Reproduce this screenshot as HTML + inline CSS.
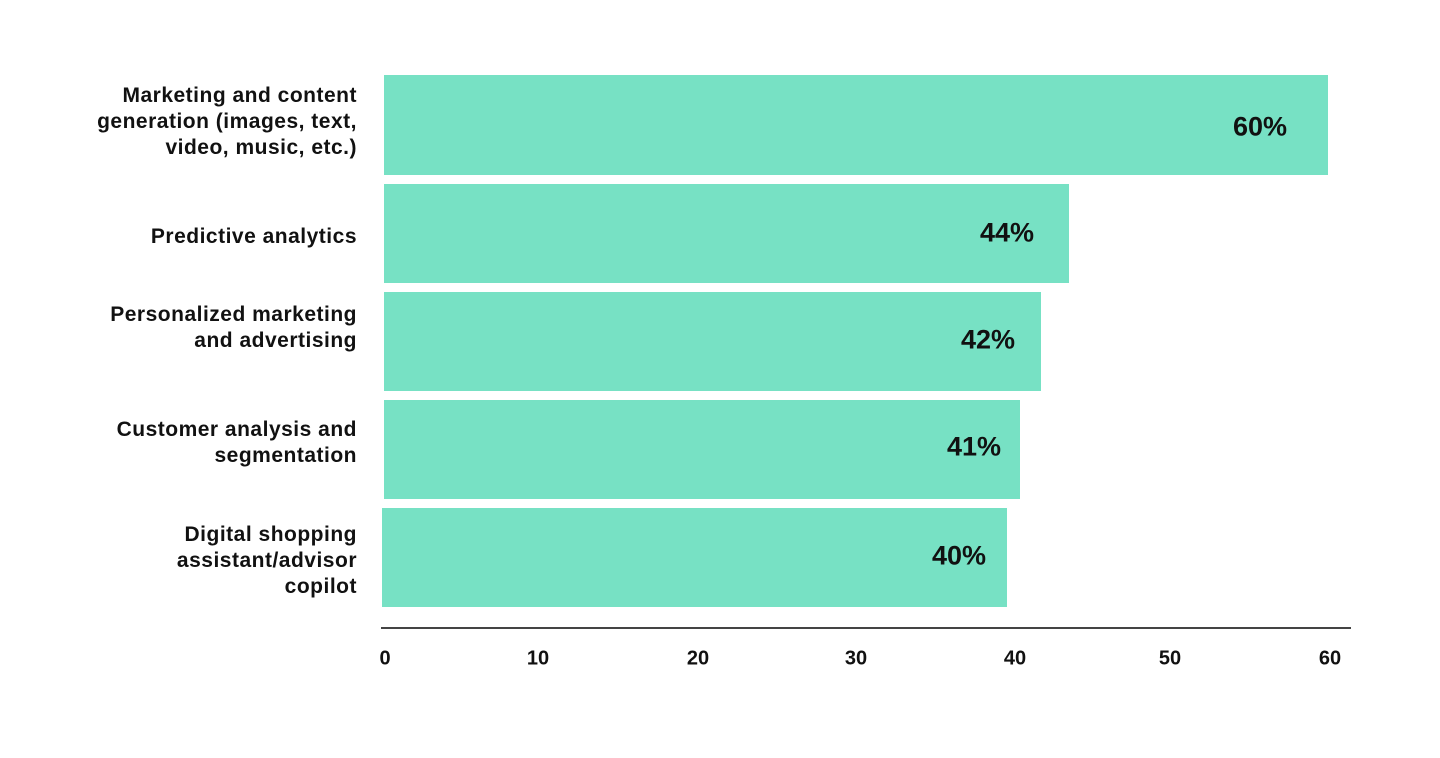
<!DOCTYPE html>
<html><head><style>
body{margin:0;width:1440px;height:758px;background:#fff;overflow:hidden;font-family:"Liberation Sans","DejaVu Sans",sans-serif;}
.b{position:absolute;background:#77e1c4;}
.v{position:absolute;font-size:27px;color:#111;transform:translate(-50%,-50%);font-weight:bold}
.c{position:absolute;right:1083px;width:340px;text-align:right;font-size:21px;letter-spacing:0.5px;line-height:26px;color:#111;font-weight:bold;transform:translateY(-50%)}
.t{position:absolute;top:659px;font-size:20px;color:#111;font-weight:bold;transform:translate(-50%,-50%)}
</style></head><body>
<div class="b" style="left:384px;top:75px;width:944px;height:100px"></div>
<div class="b" style="left:384px;top:184px;width:685px;height:99px"></div>
<div class="b" style="left:384px;top:292px;width:657px;height:99px"></div>
<div class="b" style="left:384px;top:400px;width:636px;height:99px"></div>
<div class="b" style="left:382px;top:508px;width:625px;height:99px"></div>
<div class="v" style="left:1260px;top:127px">60%</div>
<div class="v" style="left:1007px;top:233px">44%</div>
<div class="v" style="left:988px;top:340px">42%</div>
<div class="v" style="left:974px;top:447px">41%</div>
<div class="v" style="left:959px;top:556px">40%</div>
<div class="c" style="top:122px">Marketing and content<br>generation (images, text,<br>video, music, etc.)</div>
<div class="c" style="top:237px">Predictive analytics</div>
<div class="c" style="top:328px">Personalized marketing<br>and advertising</div>
<div class="c" style="top:443px">Customer analysis and<br>segmentation</div>
<div class="c" style="top:561px">Digital shopping<br>assistant/advisor<br>copilot</div>
<div style="position:absolute;left:381px;top:627px;width:970px;height:2px;background:#444"></div>
<div class="t" style="left:385px">0</div>
<div class="t" style="left:538px">10</div>
<div class="t" style="left:698px">20</div>
<div class="t" style="left:856px">30</div>
<div class="t" style="left:1015px">40</div>
<div class="t" style="left:1170px">50</div>
<div class="t" style="left:1330px">60</div>
</body></html>
